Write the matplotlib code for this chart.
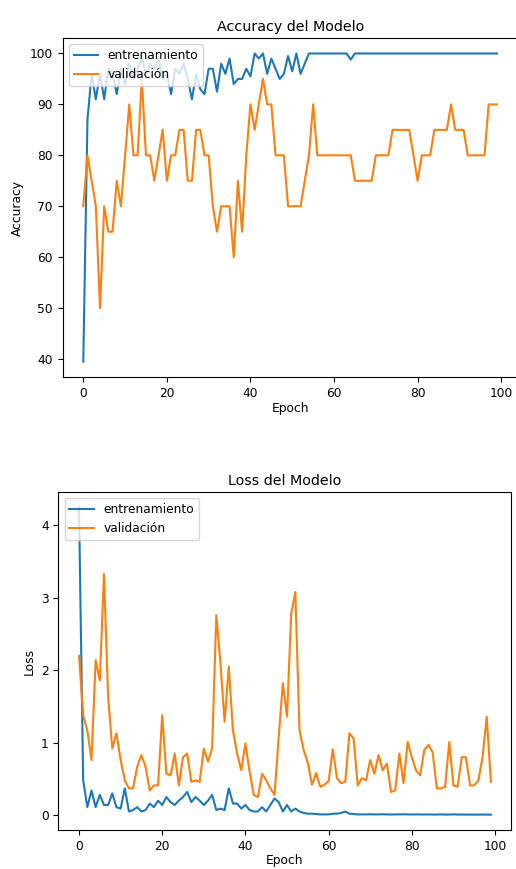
import matplotlib
matplotlib.use("Agg")
import matplotlib.pyplot as plt
import numpy as np

epochs = list(range(100))

train_acc = [39.5, 87, 96, 91, 96, 91, 97, 96, 92, 97,
             94, 98, 95, 97, 99, 96, 98, 97, 99, 95,
             96, 92, 97, 96, 98, 95, 91, 96, 93, 92,
             97, 97, 92.5, 98, 96, 99, 94, 95, 95, 97,
             95.5, 100, 99, 100, 96, 99, 97, 95, 96, 99.5,
             96.5, 100, 96, 98, 100, 100, 100, 100, 100, 100,
             100, 100, 100, 100, 98.8, 100, 100, 100, 100, 100,
             100, 100, 100, 100, 100, 100, 100, 100, 100, 100,
             100, 100, 100, 100, 100, 100, 100, 100, 100, 100,
             100, 100, 100, 100, 100, 100, 100, 100, 100, 100]

val_acc = [70, 80, 75, 70, 50, 70, 65, 65, 75, 70,
           80, 90, 80, 80, 95, 80, 80, 75, 80, 85,
           75, 80, 80, 85, 85, 75, 75, 85, 85, 80,
           80, 70, 65, 70, 70, 70, 60, 75, 65, 80,
           90, 85, 90, 95, 90, 90, 80, 80, 80, 70,
           70, 70, 70, 75, 80, 90, 80, 80, 80, 80,
           80, 80, 80, 80, 80, 75, 75, 75, 75, 75,
           80, 80, 80, 80, 85, 85, 85, 85, 85, 80,
           75, 80, 80, 80, 85, 85, 85, 85, 90, 85,
           85, 85, 80, 80, 80, 80, 80, 90, 90, 90]

train_loss = [4.25, 0.48, 0.11, 0.34, 0.11, 0.28, 0.14, 0.14, 0.30, 0.11,
              0.09, 0.37, 0.05, 0.07, 0.11, 0.05, 0.07, 0.16, 0.11, 0.20,
              0.14, 0.25, 0.18, 0.14, 0.20, 0.25, 0.32, 0.18, 0.25, 0.20,
              0.14, 0.20, 0.28, 0.07, 0.09, 0.07, 0.37, 0.16, 0.16, 0.09,
              0.14, 0.07, 0.05, 0.05, 0.11, 0.05, 0.14, 0.23, 0.18, 0.05,
              0.14, 0.05, 0.09, 0.05, 0.03, 0.02, 0.02, 0.015, 0.01, 0.01,
              0.01, 0.02, 0.02, 0.03, 0.05, 0.02, 0.015, 0.01, 0.01, 0.01,
              0.012, 0.01, 0.01, 0.012, 0.01, 0.008, 0.01, 0.01, 0.012, 0.01,
              0.008, 0.01, 0.01, 0.008, 0.01, 0.008, 0.008, 0.01, 0.008, 0.008,
              0.01, 0.008, 0.008, 0.007, 0.008, 0.007, 0.007, 0.008, 0.007, 0.007]

val_loss = [2.2, 1.38, 1.17, 0.76, 2.14, 1.86, 3.33, 1.63, 0.92, 1.13,
            0.76, 0.48, 0.37, 0.37, 0.67, 0.83, 0.67, 0.34, 0.41, 0.41,
            1.38, 0.57, 0.55, 0.85, 0.41, 0.80, 0.85, 0.46, 0.48, 0.46,
            0.92, 0.74, 0.92, 2.76, 2.09, 1.29, 2.05, 1.17, 0.85, 0.62,
            0.99, 0.60, 0.28, 0.25, 0.57, 0.48, 0.37, 0.28, 1.08, 1.82,
            1.36, 2.78, 3.08, 1.17, 0.90, 0.72, 0.42, 0.58, 0.39, 0.42,
            0.47, 0.91, 0.51, 0.44, 0.46, 1.13, 1.06, 0.41, 0.51, 0.48,
            0.76, 0.57, 0.83, 0.62, 0.71, 0.32, 0.34, 0.85, 0.44, 1.01,
            0.80, 0.62, 0.55, 0.90, 0.97, 0.87, 0.37, 0.37, 0.39, 1.01,
            0.41, 0.39, 0.80, 0.80, 0.41, 0.41, 0.48, 0.80, 1.36, 0.46]

plt.rcParams['font.size'] = 8.8
plt.rcParams['axes.titlesize'] = 10.3

fig = plt.figure(figsize=(5.16, 8.69), dpi=100)

ax1 = fig.add_axes([0.1213, 0.5662, 0.882, 0.390])
ax1.plot(epochs, train_acc, label="entrenamiento")
ax1.plot(epochs, val_acc, label="validación")
ax1.set_title("Accuracy del Modelo", pad=5)
ax1.set_ylabel("Accuracy")
ax1.set_xlabel("Epoch", labelpad=2)
ax1.set_xticks([0, 20, 40, 60, 80, 100])
ax1.legend(loc="upper left")

ax2 = fig.add_axes([0.1132, 0.0449, 0.878, 0.389])
ax2.plot(epochs, train_loss, label="entrenamiento")
ax2.plot(epochs, val_loss, label="validación")
ax2.set_title("Loss del Modelo", pad=5)
ax2.set_ylabel("Loss")
ax2.set_xlabel("Epoch", labelpad=1)
ax2.set_xticks([0, 20, 40, 60, 80, 100])
ax2.legend(loc="upper left")

fig.savefig("out.png", dpi=100)
